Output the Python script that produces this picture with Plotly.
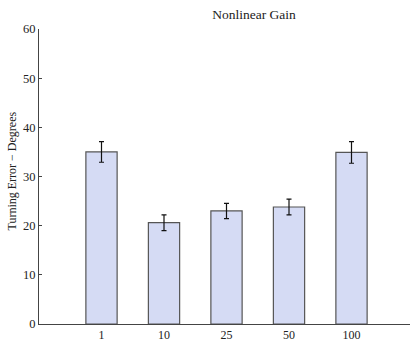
import plotly.graph_objects as go

categories = ["1", "10", "25", "50", "100"]
values = [35.0, 20.6, 23.0, 23.8, 34.9]
errors = [2.1, 1.6, 1.55, 1.6, 2.2]
y_ticks = [0, 10, 20, 30, 40, 50, 60]

FONT = "Liberation Serif, Times New Roman, serif"
W, H = 410, 343

fig = go.Figure()
fig.add_trace(go.Bar(
    x=categories, y=values,
    width=0.5,
    marker=dict(color="#d5dbf4", line=dict(color="#555555", width=1.2)),
    error_y=dict(type="data", array=errors, visible=True, color="#111111",
                 thickness=1.2, width=2.5),
))

fig.update_layout(
    width=W, height=H,
    margin=dict(l=39, r=0, t=29, b=19),
    paper_bgcolor="white", plot_bgcolor="white",
    showlegend=False,
    font=dict(family=FONT, size=12, color="#222222"),
    title=dict(text="Nonlinear Gain", x=254 / W, xanchor="center",
               y=1 - 14 / H, yanchor="middle",
               font=dict(family=FONT, size=13.5, color="#222222")),
    xaxis=dict(type="category", range=[-1, 4.936], showgrid=False,
               showline=True, linecolor="#444444", linewidth=1,
               ticks="", tickfont=dict(family=FONT, size=12),
               zeroline=False, automargin=False),
    yaxis=dict(range=[0, 60], tickvals=y_ticks, showgrid=False,
               showline=True, linecolor="#444444", linewidth=1,
               ticks="inside", ticklen=3, tickcolor="#444444",
               tickfont=dict(family=FONT, size=12.5), zeroline=False,
               automargin=False),
    annotations=[dict(text="Turning Error \u2212 Degrees", xref="paper", yref="paper",
                      x=-27 / 371, y=0.517, textangle=-90, showarrow=False,
                      xanchor="center", yanchor="middle",
                      font=dict(family=FONT, size=12, color="#222222"))],
)

fig.write_html("out.html", config={"displayModeBar": False},
               post_script="document.body.style.margin='0';document.body.style.overflow='hidden';")
